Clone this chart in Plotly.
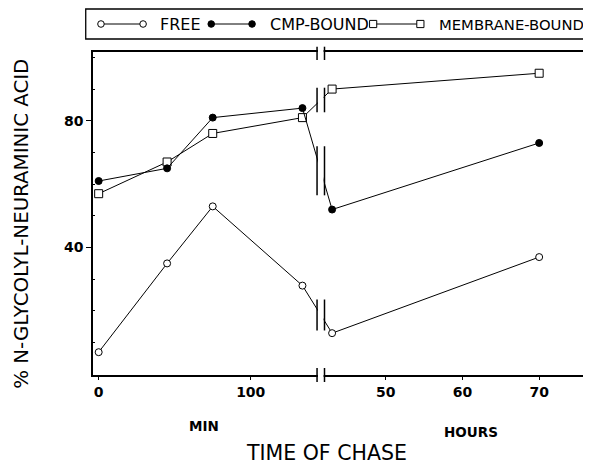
import numpy as np
import plotly.graph_objects as go

# ---------------- data ----------------
min_times = [0, 45, 75, 134]          # minutes of chase
hour_times = [43, 70]                 # hours of chase
free_min = [7, 35, 53, 28]
free_hr = [13, 37]
cmp_min = [61, 65, 81, 84]
cmp_hr = [52, 73]
mem_min = [57, 67, 76, 81]
mem_hr = [90, 95]

series_names = ["FREE", "CMP-BOUND", "MEMBRANE-BOUND"]
x_min_ticks = [0, 100]
x_hour_ticks = [50, 60, 70]
y_ticks = [40, 80]
y_minor_ticks = [10, 20, 30, 50, 60, 70, 90, 100]

# ---------------- broken x scale (one axis in minute units) ----------------
HOUR_SCALE = 5.043       # axis units per hour
HOUR_OFFSET = -63.35     # axis position of hour 0


def hour_to_u(h):
    return HOUR_OFFSET + HOUR_SCALE * np.asarray(h, dtype=float)


BREAK_L, BREAK_R = 143.6, 148.5
XR = [-3.73, 319.8]
YR = [-0.2, 101.7]

# page body has an 8px margin; the figure is sized to fit the window exactly
OFF = 8
W, H = 591 - OFF, 464 - OFF
ML, MR, MT, MB = 85, 4, 44, 89
PW, PH = W - ML - MR, H - MT - MB


def xp(u):
    return (u - XR[0]) / (XR[1] - XR[0])


def yp(v):
    return (v - YR[0]) / (YR[1] - YR[0])


def px_x(rx):
    """window pixel x -> paper x"""
    return (rx - OFF - ML) / PW


def px_y(ry):
    """window pixel y -> paper y"""
    return (H - MB - (ry - OFF)) / PH


FONT = "DejaVu Sans"
fig = go.Figure()

styles = {
    "FREE": dict(symbol="circle", color="white", size=7),
    "CMP-BOUND": dict(symbol="circle", color="black", size=7),
    "MEMBRANE-BOUND": dict(symbol="square", color="white", size=8),
}
data = {
    "FREE": (free_min, free_hr),
    "CMP-BOUND": (cmp_min, cmp_hr),
    "MEMBRANE-BOUND": (mem_min, mem_hr),
}

for name in ["MEMBRANE-BOUND", "CMP-BOUND", "FREE"]:
    mvals, hvals = data[name]
    xs = list(min_times) + list(hour_to_u(hour_times))
    ys = list(mvals) + list(hvals)
    st = styles[name]
    fig.add_trace(go.Scatter(
        x=xs, y=ys, mode="lines+markers", name=name, showlegend=False,
        line=dict(color="black", width=1),
        marker=dict(symbol=st["symbol"], size=st["size"], color=st["color"],
                    line=dict(color="black", width=1)),
        cliponaxis=False,
    ))

shapes = []
# white gap for the scale break
shapes.append(dict(type="rect", xref="paper", yref="paper",
                   x0=xp(BREAK_L) + 0.9 / PW, x1=xp(BREAK_R) - 0.9 / PW,
                   y0=-0.03, y1=1.025, fillcolor="white", line=dict(width=0),
                   layer="above"))

u_mid = 0.5 * (BREAK_L + BREAK_R)
mark_segments = [(px_y(60), px_y(46.7)), (px_y(382), px_y(368))]
px_per_u = PW / (XR[1] - XR[0])
px_per_v = PH / (YR[1] - YR[0])
for name in series_names:
    mvals, hvals = data[name]
    x0u, x1u = min_times[-1], float(hour_to_u(hour_times[0]))
    v0, v1 = mvals[-1], hvals[0]
    vmid = float(np.interp(u_mid, [x0u, x1u], [v0, v1]))
    slope = abs((v1 - v0) * px_per_v / ((x1u - x0u) * px_per_u))
    half = (15 + 10 * slope) / 2 / PH
    mark_segments.append((yp(vmid) - half, yp(vmid) + half))

for bx in (BREAK_L, BREAK_R):
    for (ya, yb) in mark_segments:
        shapes.append(dict(type="line", xref="paper", yref="paper",
                           x0=xp(bx), x1=xp(bx), y0=ya, y1=yb,
                           line=dict(color="black", width=1.5), layer="above"))

# ---------------- legend (box with line samples) ----------------
shapes.append(dict(type="rect", xref="paper", yref="paper",
                   x0=px_x(85.7), x1=px_x(600), y0=px_y(39), y1=px_y(9),
                   line=dict(color="black", width=1.3), fillcolor="white",
                   layer="above"))
leg_y = 24
legend_items = [
    ("FREE", 101, 143.3, 158.5, 16),
    ("CMP-BOUND", 211.7, 252.7, 269, 16),
    ("MEMBRANE-BOUND", 374.3, 421.7, 438.5, 14.8),
]
annotations = []
for name, a, b, tx, fs in legend_items:
    shapes.append(dict(type="line", xref="paper", yref="paper",
                       x0=px_x(a), x1=px_x(b), y0=px_y(leg_y), y1=px_y(leg_y),
                       line=dict(color="black", width=1), layer="above"))
    for cx in (a, b):
        if name == "MEMBRANE-BOUND":
            r = 3.6
            shapes.append(dict(type="rect", xref="paper", yref="paper",
                               x0=px_x(cx - r), x1=px_x(cx + r),
                               y0=px_y(leg_y + r), y1=px_y(leg_y - r),
                               fillcolor="white", line=dict(color="black", width=1),
                               layer="above"))
        else:
            r = 3.3
            shapes.append(dict(type="circle", xref="paper", yref="paper",
                               x0=px_x(cx - r), x1=px_x(cx + r),
                               y0=px_y(leg_y + r), y1=px_y(leg_y - r),
                               fillcolor="black" if name == "CMP-BOUND" else "white",
                               line=dict(color="black", width=1), layer="above"))
    annotations.append(dict(text=name, xref="paper", yref="paper",
                            x=px_x(tx), y=px_y(leg_y), xanchor="left", yanchor="middle",
                            showarrow=False, font=dict(family=FONT, size=fs, color="black")))

annotations += [
    dict(text="MIN", xref="paper", yref="paper", x=px_x(204.7), y=px_y(426),
         showarrow=False, xanchor="center", yanchor="middle",
         font=dict(family=FONT, size=13.5, color="black", weight="bold")),
    dict(text="HOURS", xref="paper", yref="paper", x=px_x(473), y=px_y(431.7),
         showarrow=False, xanchor="center", yanchor="middle",
         font=dict(family=FONT, size=13.5, color="black", weight="bold")),
    dict(text="TIME OF CHASE", xref="paper", yref="paper", x=px_x(327), y=px_y(452.5),
         showarrow=False, xanchor="center", yanchor="middle",
         font=dict(family=FONT, size=20.5, color="black")),
    dict(text="% N-GLYCOLYL-NEURAMINIC ACID", xref="paper", yref="paper",
         x=px_x(21.5), y=px_y(224), textangle=-90,
         showarrow=False, xanchor="center", yanchor="middle",
         font=dict(family=FONT, size=19.8, color="black")),
]

fig.update_layout(
    width=W, height=H,
    margin=dict(l=ML, r=MR, t=MT, b=MB, pad=0),
    paper_bgcolor="white", plot_bgcolor="white",
    showlegend=False,
    shapes=shapes, annotations=annotations,
    xaxis=dict(range=XR, tickmode="array",
               tickvals=list(x_min_ticks) + list(hour_to_u(x_hour_ticks)),
               ticktext=[str(v) for v in x_min_ticks] + [str(v) for v in x_hour_ticks],
               ticks="outside", ticklen=3, tickwidth=1.3, tickcolor="black",
               showline=True, linecolor="black", linewidth=1.5, mirror=True,
               showgrid=False, zeroline=False,
               tickfont=dict(family=FONT, size=14, color="black", weight="bold")),
    yaxis=dict(range=YR, tickmode="array", tickvals=y_ticks,
               ticktext=[str(v) for v in y_ticks],
               ticks="outside", ticklen=5, tickwidth=1.3, tickcolor="black",
               minor=dict(tickmode="array", tickvals=y_minor_ticks, ticks="inside",
                          ticklen=2.5, tickwidth=1, tickcolor="black"),
               showline=True, linecolor="black", linewidth=1.5, mirror=True,
               showgrid=False, zeroline=False,
               tickfont=dict(family=FONT, size=14, color="black", weight="bold")),
)

fig.write_html("out.html")
